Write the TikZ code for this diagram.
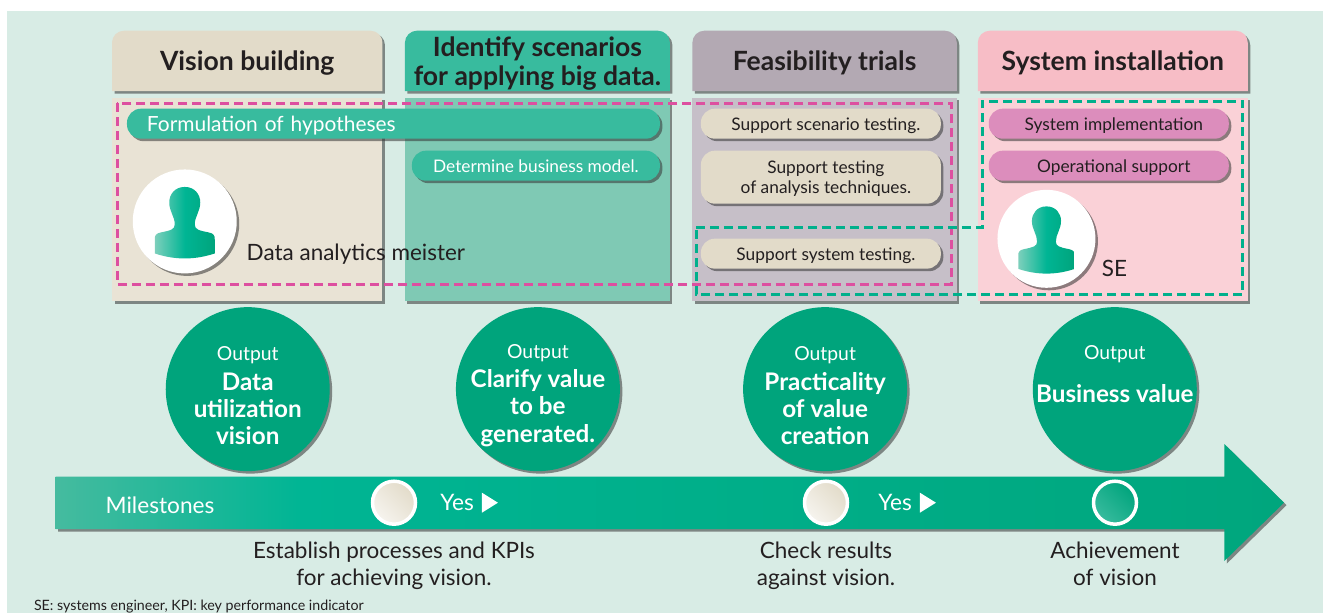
\documentclass[tikz,border=0pt]{standalone}
\usepackage{fontspec}
\setmainfont{Lato}
\usepackage{xcolor}
\usetikzlibrary{positioning, shapes.geometric, shadows, backgrounds}

\definecolor{pagebg}{HTML}{D8ECE5}
\definecolor{visionhead}{HTML}{E2DBC9}
\definecolor{visionbody}{HTML}{E9E3D5}
\definecolor{scenariohead}{HTML}{38BB9E}
\definecolor{scenariobody}{HTML}{7FC9B4}
\definecolor{trialhead}{HTML}{B3A9B3}
\definecolor{trialbody}{HTML}{C6BFC8}
\definecolor{installhead}{HTML}{F7BDC6}
\definecolor{installbody}{HTML}{FAD1D7}
\definecolor{pillpink}{HTML}{DC8DBC}
\definecolor{dashpink}{HTML}{DD4FA0}
\definecolor{dashgreen}{HTML}{00B08C}
\definecolor{discgreen}{HTML}{00A47C}
\definecolor{inktext}{HTML}{231F20}
\definecolor{barstart}{HTML}{45BB9F}
\definecolor{barmid}{HTML}{00B594}
\definecolor{barnext}{HTML}{00AF8A}
\definecolor{barend}{HTML}{00A67D}

\pgfdeclarehorizontalshading{milestonebar}{100bp}{color(0bp)=(barstart); color(25bp)=(barstart); color(35bp)=(barmid); color(51bp)=(barnext); color(75bp)=(barend); color(100bp)=(barend)}

\newcommand{\pillpad}{\hspace*{.2cm}}
\newcommand{\outword}{{\mdseries\fontsize{11}{15.4}\selectfont\rule{0pt}{15pt}Output}}

\tikzset{
    softshadow/.style={drop shadow={shadow xshift=.05cm, shadow yshift=-.05cm, fill=black!80, opacity=.55}},
    headbox/.style={rectangle, outer sep=0pt, inner sep=0pt, minimum height=1.21cm, align=center, text=inktext, text depth=0pt, font=\fontsize{15.1}{16.6}\selectfont\bfseries},
    bodybox/.style={rectangle, outer sep=0pt, minimum height=4.07cm, softshadow},
    pillbox/.style={rectangle, rounded corners=.28cm, outer sep=0pt, inner sep=0pt, minimum width=4.8cm, minimum height=.6cm, align=center, softshadow, text=inktext, text depth=-1pt, font=\fontsize{9.85}{11.6}\selectfont},
    outputdisc/.style={circle, outer sep=0pt, inner sep=-.6cm, minimum size=3.28cm, fill=discgreen, softshadow, align=center, text=white, font=\fontsize{13.8}{15.4}\selectfont\bfseries},
    figdisc/.style={circle, outer sep=0pt, inner sep=0pt, fill=white, softshadow},
    stonedisc/.style={circle, outer sep=0pt, inner sep=0pt, minimum size=.86cm, draw=white, line width=.07cm},
    bartext/.style={inner sep=0pt, outer sep=0pt, text=white, font=\fontsize{12.9}{14}\selectfont},
    bartip/.style={isosceles triangle, isosceles triangle apex angle=64, inner sep=0pt, outer sep=0pt, minimum size=.32cm, fill=white},
    plainlabel/.style={inner sep=0pt, outer sep=0pt, align=center, text=inktext, font=\fontsize{12.8}{15.4}\selectfont},
    hypodash/.style={dashpink, line width=.06cm, dash pattern=on .18cm off .1cm},
    sysdash/.style={dashgreen, line width=.06cm, dash pattern=on .18cm off .1cm},
    personfig/.pic={
        \path[left color=barstart!70, right color=discgreen, middle color=barmid] (0,-34.5) .. controls (10,-34.5) and (15.5,-27) .. (15.5,-19) .. controls (15.5,-10) and (10,-5) .. (10,3) .. controls (10,8) and (14,9) .. (24,11) .. controls (29,12) and (30,14) .. (30,18) -- (30,32) .. controls (18,36) and (8,37) .. (0,37) .. controls (-8,37) and (-18,36) .. (-30,32) -- (-30,18) .. controls (-30,14) and (-29,12) .. (-24,11) .. controls (-14,9) and (-10,8) .. (-10,3) .. controls (-10,-5) and (-15.5,-10) .. (-15.5,-19) .. controls (-15.5,-27) and (-10,-34.5) .. cycle;
    }
}

\begin{document}
\begin{tikzpicture}[x=.02cm, y=-.02cm]
    \useasboundingbox (0,0) rectangle (1323,613);

    % Column heads
    \node[headbox, anchor=north west, minimum width=5.41cm] (vision) at (112,30.7) {Vision building};
    \node[headbox, minimum width=5.3cm, right=.45cm of vision] (scenario) {Identify scenarios\\for applying big data.};
    \node[headbox, minimum width=5.29cm, right=.45cm of scenario] (trial) {Feasibility trials};
    \node[headbox, minimum width=5.4cm, right=.42cm of trial] (install) {System installation};

    % Column bodies
    \node[bodybox, fill=visionbody, minimum width=5.41cm, below=.13cm of vision] (visionbody) {};
    \node[bodybox, fill=scenariobody, minimum width=5.3cm, below=.13cm of scenario] (scenariobody) {};
    \node[bodybox, fill=trialbody, minimum width=5.29cm, below=.13cm of trial] (trialbody) {};
    \node[bodybox, fill=installbody, minimum width=5.4cm, below=.13cm of install] (installbody) {};

    % Backgrounds and head shapes
    \begin{scope}[on background layer]
        \fill[pagebg] (7,11) rectangle (1323,613);
        \foreach \n/\c in {vision/visionhead, scenario/scenariohead, trial/trialhead, install/installhead}
            \path[fill=\c, softshadow] (\n.south west) [rounded corners=.24cm] -- (\n.north west) -- (\n.north east) [sharp corners] -- (\n.south east) -- cycle;
    \end{scope}

    % Pills
    \node[pillbox, fill=scenariohead, minimum width=10.66cm, text width=9.86cm, align=left, text=white, font=\fontsize{11.9}{14}\selectfont, below right=.22cm and .3cm of visionbody.north west] (hypotheses) {Formulation of hypotheses};
    \node[pillbox, fill=scenariohead, minimum width=4.96cm, text=white, below left=.24cm and 0cm of hypotheses.south east] (model) {Determine business model.};
    \node[pillbox, fill=visionhead, below right=.22cm and .17cm of trialbody.north west] (scenariotest) {\pillpad Support scenario testing.};
    \node[pillbox, fill=visionhead, minimum height=1.06cm, below=.24cm of scenariotest] (analysistest) {\pillpad Support testing\\\pillpad of analysis techniques.};
    \node[pillbox, fill=visionhead, below=.7cm of analysistest] (systemtest) {\pillpad Support system testing.};
    \node[pillbox, fill=pillpink, below right=.22cm and .22cm of installbody.north west] (implement) {\pillpad System implementation};
    \node[pillbox, fill=pillpink, below=.24cm of implement] (operate) {\pillpad Operational support};

    % People
    \node[figdisc, minimum size=2.08cm, below right=1.74cm and .72cm of visionbody.north west] (meisterfig) {};
    \pic at (meisterfig) {personfig};
    \node[plainlabel, right=.2cm of meisterfig, yshift=-.66cm] (meister) {Data analytics meister};
    \node[figdisc, minimum size=1.96cm, below right=2.13cm and .68cm of installbody.north west] (sefig) {};
    \pic[scale=.94] at (sefig) {personfig};
    \node[plainlabel, right=.13cm of sefig, yshift=-.6cm] (selabel) {SE};

    % Dashed groups
    \draw[hypodash] (117,103) rectangle (951,284);
    \draw[sysdash] (696,227.7) -- (982.6,227.7) -- (982.6,101) -- (1242.7,101) -- (1242.7,294.7) -- (696,294.7) -- cycle;

    % Outputs
    \node[outputdisc, below=.12cm of visionbody, xshift=.01cm] (visionout) {\outword\\[1.5pt]Data\\utilization\\vision};
    \node[outputdisc, below=.12cm of scenariobody, xshift=.01cm] (scenarioout) {\outword\\[1.5pt]Clarify value\\to be\\generated.};
    \node[outputdisc, below=.12cm of trialbody, xshift=.01cm] (trialout) {\outword\\[1.5pt]Practicality\\of value\\creation};
    \node[outputdisc, below=.12cm of installbody, xshift=.04cm] (installout) {\outword\\[9pt]Business value\\[9pt]};

    % Milestone arrow
    \path[shading=milestonebar, softshadow] (55.5,476.7) -- (1224.4,476.7) -- (1224.4,444) -- (1284,502.7) -- (1224.4,561) -- (1224.4,529) -- (55.5,529) -- cycle;
    \node[bartext] (milestones) at (160,505.5) {Milestones};
    \node[stonedisc, left color=white!70!visionhead, right color=visionhead, shading angle=135] (stoneone) at (394,502.7) {};
    \node[stonedisc, left color=white!70!visionhead, right color=visionhead, shading angle=135] (stonetwo) at (826,502.7) {};
    \node[stonedisc, left color=scenariohead, right color=discgreen, shading angle=135] (stonethree) at (1115,502.7) {};
    \node[bartext, right=.5cm of stoneone] (yesone) {Yes};
    \node[bartip, right=.16cm of yesone] (tipone) {};
    \node[bartext, right=.62cm of stonetwo] (yestwo) {Yes};
    \node[bartip, right=.16cm of yestwo] (tiptwo) {};

    % Milestone labels
    \node[plainlabel, below=.35cm of stoneone] (processes) {Establish processes and KPIs\\for achieving vision.};
    \node[plainlabel, below=.35cm of stonetwo] (results) {Check results\\against vision.};
    \node[plainlabel, below=.35cm of stonethree] (achieve) {Achievement\\of vision};
    \node[plainlabel, anchor=west, font=\fontsize{8.1}{9}\selectfont] (footnote) at (34,606.5) {SE: systems engineer, KPI: key performance indicator};
\end{tikzpicture}
\end{document}
